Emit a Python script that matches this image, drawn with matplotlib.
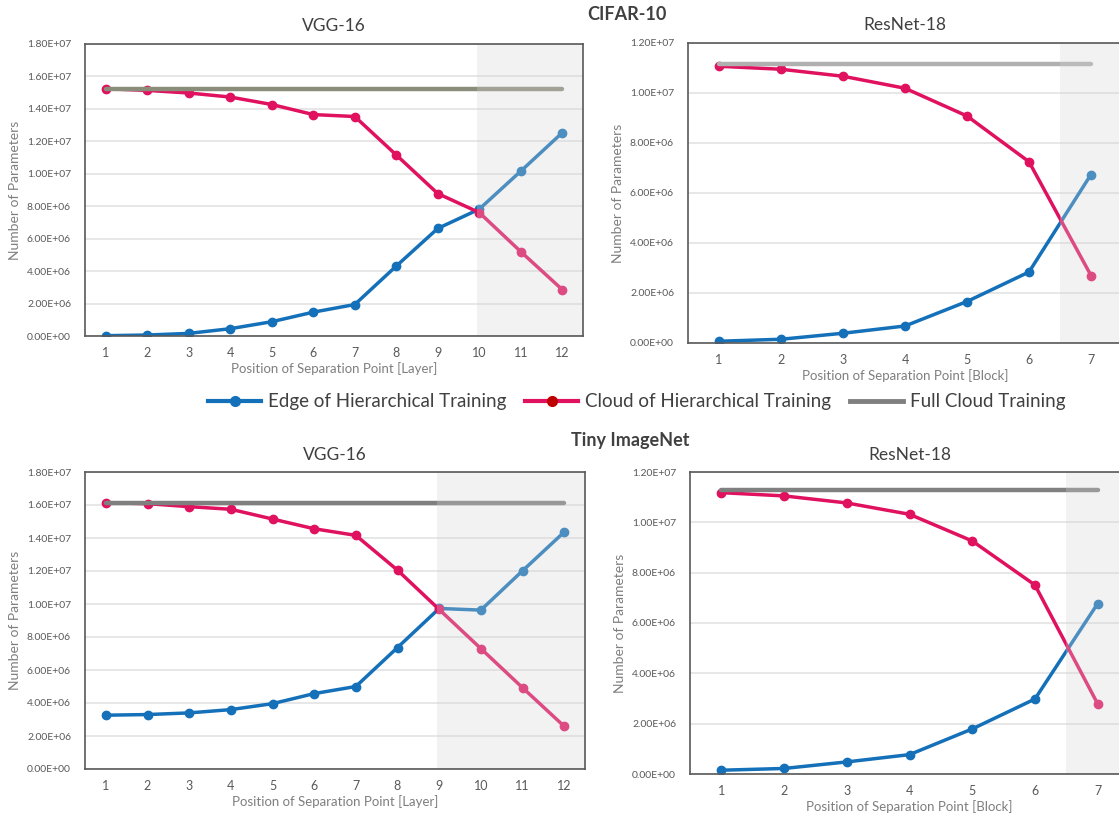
import matplotlib
matplotlib.use("Agg")
import matplotlib.pyplot as plt
from matplotlib.ticker import FuncFormatter, MultipleLocator
from matplotlib.lines import Line2D

plt.rcParams["font.family"] = ["Lato", "DejaVu Sans"]

# ---- data (parameters, in units of 1e6) ----
vgg_layers = list(range(1, 13))
resnet_blocks = list(range(1, 8))

cifar_vgg_edge = [0.02, 0.06, 0.16, 0.45, 0.88, 1.47, 1.94, 4.31, 6.63, 7.82, 10.16, 12.53]
cifar_vgg_cloud = [15.24, 15.14, 14.98, 14.73, 14.27, 13.65, 13.53, 11.16, 8.78, 7.61, 5.20, 2.86]
cifar_vgg_full = 15.22

cifar_res_edge = [0.07, 0.15, 0.39, 0.68, 1.66, 2.84, 6.74]
cifar_res_cloud = [11.07, 10.95, 10.67, 10.19, 9.08, 7.25, 2.70]
cifar_res_full = 11.17

tiny_vgg_edge = [3.26, 3.30, 3.40, 3.60, 3.96, 4.57, 5.00, 7.36, 9.73, 9.63, 12.01, 14.36]
tiny_vgg_cloud = [16.14, 16.08, 15.90, 15.74, 15.15, 14.56, 14.16, 12.05, 9.67, 7.30, 4.93, 2.59]
tiny_vgg_full = 16.14

tiny_res_edge = [0.15, 0.22, 0.48, 0.77, 1.79, 2.98, 6.77]
tiny_res_cloud = [11.18, 11.05, 10.77, 10.32, 9.26, 7.51, 2.79]
tiny_res_full = 11.30

series_names = ["Edge of Hierarchical Training", "Cloud of Hierarchical Training", "Full Cloud Training"]

BLUE = "#1470b8"
RED = "#e0115f"
RED_DARK = "#c00000"
TEXT = "#595959"
LABEL = "#7f7f7f"

W, H = 1119, 814
fig = plt.figure(figsize=(W / 100, H / 100), dpi=100)


def px_axes(left, top, right, bottom):
    return fig.add_axes([left / W, 1 - bottom / H, (right - left) / W, (bottom - top) / H])


def panel(ax, x, edge, cloud, full, full_color, ymax, step, shade_from, xlabel, title):
    scale = 1e6
    ax.plot(x, [v * scale for v in edge], color=BLUE, lw=2.5, marker="o", ms=6,
            solid_capstyle="round", zorder=2.0)
    ax.plot(x, [v * scale for v in cloud], color=RED, lw=2.5, marker="o", ms=6,
            solid_capstyle="round", zorder=2.05)
    ax.plot([x[0], x[-1]], [full * scale, full * scale], color=full_color, lw=3.2,
            solid_capstyle="round", zorder=2.1)
    ax.axvspan(shade_from, x[-1] + 0.5, color="#d4d4d4", alpha=0.3, lw=0, zorder=2.3)

    ax.set_xlim(0.5, x[-1] + 0.5)
    ax.set_ylim(0, ymax * scale)
    ax.yaxis.set_major_locator(MultipleLocator(step * scale))
    ax.yaxis.set_major_formatter(FuncFormatter(lambda v, p: f"{v:.2E}"))
    ax.set_xticks(x)
    ax.grid(axis="y", color="#e3e3e3", lw=1.2, zorder=0)
    ax.set_axisbelow(True)
    ax.tick_params(length=0, labelsize=7.5, labelcolor=TEXT, pad=10)
    ax.tick_params(axis="x", pad=8, labelsize=9)
    for s in ax.spines.values():
        s.set_color("#595959")
        s.set_linewidth(1.2)
    ax.set_xlabel(xlabel, fontsize=9.5, color=LABEL, labelpad=2)
    ax.set_ylabel("Number of Parameters", fontsize=10, color=LABEL, labelpad=4)
    ax.set_title(title, fontsize=12.5, color="#404040", pad=9)


ax1 = px_axes(85, 44, 583, 336)
panel(ax1, vgg_layers, cifar_vgg_edge, cifar_vgg_cloud, cifar_vgg_full, "#8b8d7b",
      18, 2, 9.95, "Position of Separation Point [Layer]", "VGG-16")

ax2 = px_axes(688, 43, 1122, 343)
panel(ax2, resnet_blocks, cifar_res_edge, cifar_res_cloud, cifar_res_full, "#b0b0b0",
      12, 2, 6.5, "Position of Separation Point [Block]", "ResNet-18")

ax3 = px_axes(85, 472, 585, 769)
panel(ax3, vgg_layers, tiny_vgg_edge, tiny_vgg_cloud, tiny_vgg_full, "#7f7f7f",
      18, 2, 8.95, "Position of Separation Point [Layer]", "VGG-16")

ax4 = px_axes(690, 472, 1129, 774)
panel(ax4, resnet_blocks, tiny_res_edge, tiny_res_cloud, tiny_res_full, "#808080",
      12, 2, 6.5, "Position of Separation Point [Block]", "ResNet-18")

fig.text(627 / W, 1 - 14 / H, "CIFAR-10", ha="center", va="center",
         fontsize=13, fontweight="bold", color="#404040")
fig.text(630 / W, 1 - 441 / H, "Tiny ImageNet", ha="center", va="center",
         fontsize=13, fontweight="bold", color="#404040")

handles = [
    Line2D([], [], color=BLUE, lw=3, marker="o", ms=7, markevery=[1]),
    Line2D([], [], color=RED, lw=3, marker="o", ms=7, mfc=RED_DARK, mec=RED_DARK),
    Line2D([], [], color="#808080", lw=3.5),
]
fig.legend(handles, series_names, loc="center", bbox_to_anchor=(637 / W, 1 - 402 / H),
           ncol=3, frameon=False, fontsize=13.5, handlelength=2.8, handletextpad=0.4,
           columnspacing=1.0, labelcolor="#404040")

fig.savefig("out.png", dpi=100)
